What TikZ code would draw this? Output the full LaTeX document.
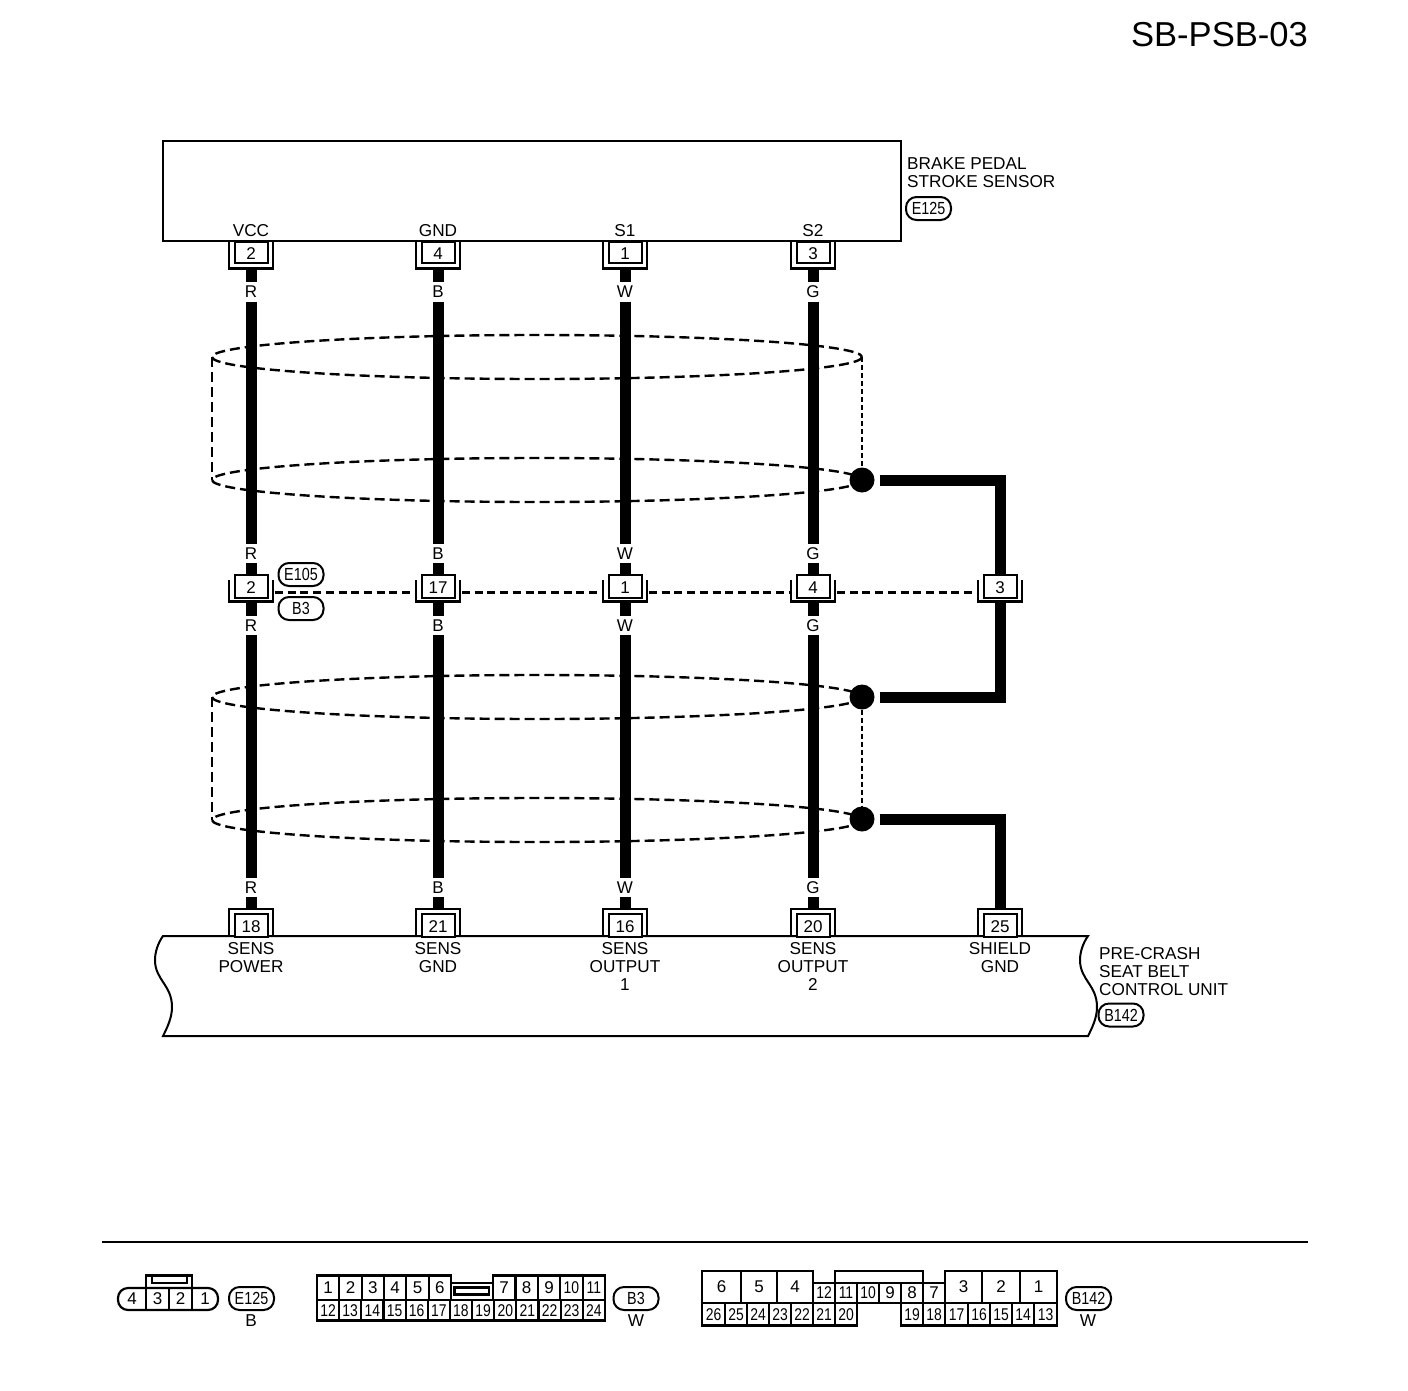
\documentclass[tikz,border=0pt]{standalone}
\usepackage{fontspec}
\usepackage{graphicx}
\setmainfont{Liberation Sans}
\tikzset{
  txt/.style={inner sep=0pt,font=\fontsize{17.2}{18}\selectfont,align=center},
  num/.style={inner sep=0pt,font=\fontsize{17}{18}\selectfont},
  wlabel/.style={inner sep=0pt,minimum width=0pt,minimum height=19pt,font=\fontsize{17}{18}\selectfont},
  wire/.style={line width=11pt},
  pinbox/.style={draw,line width=2pt,inner sep=0pt,minimum width=33pt,font=\fontsize{17}{18}\selectfont,fill=white},
  ushell/.style={line width=2.6pt},
  shield/.style={line width=2.4pt,dash pattern=on 10pt off 5pt},
  pill/.style={draw,line width=2pt,rounded corners=10.5pt,inner sep=0pt,minimum width=45pt,minimum height=23pt,font=\fontsize{17.5}{18}\selectfont,fill=white},
  dotnode/.style={circle,fill=black,inner sep=0pt,minimum size=25pt},
  gnd/.style={line width=11pt,miter limit=10,shorten <=5pt},
  cellline/.style={line width=2.2pt},
  outline/.style={line width=2.7pt}
}
\newcommand{\nar}[1]{\scalebox{0.82}[1]{#1}}
\newcommand{\dn}[1]{\raisebox{-1.5pt}[\height][\depth]{#1}}
\begin{document}
\begin{tikzpicture}[x=1pt,y=-1pt,line join=miter]
\useasboundingbox (0,0) rectangle (1408,1390);
\node[inner sep=0pt,font=\fontsize{34.6}{36}\selectfont] (title) at (1219.5,34.5) {SB-PSB-03};

% shields (below the wires)
\coordinate (sA) at (537,357); \coordinate (sB) at (537,480);
\coordinate (sC) at (537,697); \coordinate (sD) at (537,820);
\draw[shield] (sA) ellipse [x radius=325,y radius=22];
\draw[shield] (sB) ellipse [x radius=325,y radius=22];
\draw[shield] (sC) ellipse [x radius=325,y radius=22];
\draw[shield] (sD) ellipse [x radius=325,y radius=22];
\coordinate (sAl) at (212,357); \coordinate (sBl) at (212,480);
\coordinate (sCl) at (212,697); \coordinate (sDl) at (212,820);
\coordinate (sAr) at (862,357);
\draw[shield] (sAl) -- (sBl);
\draw[shield] (sCl) -- (sDl);
\node[dotnode] (dA) at (862,480) {};
\node[dotnode] (dB) at (862,697) {};
\node[dotnode] (dC) at (862,819) {};
\draw[line width=1.6pt,dash pattern=on 5pt off 3pt] (sAr) -- (dA);
\draw[line width=1.6pt,dash pattern=on 5pt off 3pt] (dB) -- (dC);

% component boxes
\node[draw,line width=2pt,inner sep=0pt,minimum width=738pt,minimum height=100pt] (sensor) at (532,191) {};
\node[txt,anchor=north west,align=left] (sensorname) at (907,157.5) {BRAKE PEDAL\\STROKE SENSOR};
\node[pill] (e125) at (928.5,208.5) {\nar{E125}};

\coordinate (ulT) at (163,936); \coordinate (urT) at (1088,936);
\coordinate (ulB) at (163,1036); \coordinate (urB) at (1088,1036);
\draw[line width=2pt] (ulT) -- (urT)
  .. controls (1083,943) and (1080,952) .. (1080,960)
  .. controls (1080,980) and (1097,985) .. (1097,1007)
  .. controls (1097,1018) and (1092,1028) .. (urB)
  -- (ulB)
  .. controls (167,1028) and (172,1018) .. (172,1007)
  .. controls (172,985) and (155,980) .. (155,960)
  .. controls (155,952) and (158,943) .. (ulT) -- cycle;
\node[txt,anchor=north west,align=left] (unitname) at (1099,947.5) {PRE-CRASH\\SEAT BELT\\CONTROL UNIT};
\node[pill] (b142) at (1121,1015) {\nar{B142}};

% wire columns
\foreach \n/\x/\c/\sig/\pa/\pb/\pc in {1/251/R/VCC/2/2/18,2/438/B/GND/4/17/21,3/625/W/S1/1/1/16,4/813/G/S2/3/4/20}{
  \node[txt] (sig\n) at (\x,231) {\sig};
  % top connector
  \node[pinbox,minimum height=21pt] (t\n) at (\x,252) {\dn{\pa}};
  \draw[ushell] (\x-22,242) -- (\x-22,268.5) -- (\x+22,268.5) -- (\x+22,242);
  \coordinate (to\n) at (\x,269);
  % labels
  \node[wlabel] (la\n) at (\x,292) {\c};
  \node[wlabel] (lb\n) at (\x,553.5) {\c};
  \node[wlabel] (lc\n) at (\x,625.5) {\c};
  \node[wlabel] (ld\n) at (\x,887.5) {\c};
  % middle connector
  \coordinate (mi\n) at (\x,574);
  \coordinate (mo\n) at (\x,602);
  % bottom connector
  \coordinate (bo\n) at (\x,908);
  \draw[wire] (to\n) -- (la\n);
  \draw[wire] (la\n) -- (lb\n);
  \draw[wire] (lb\n) -- (mi\n);
  \draw[wire] (mo\n) -- (lc\n);
  \draw[wire] (lc\n) -- (ld\n);
  \draw[wire] (ld\n) -- (bo\n);
  \node[pinbox,minimum height=23pt] (m\n) at (\x,586) {\dn{\pb}};
  \draw[ushell] (\x-22,580) -- (\x-22,601.5) -- (\x+22,601.5) -- (\x+22,580);
  \draw[ushell] (\x-22,936) -- (\x-22,909) -- (\x+22,909) -- (\x+22,936);
  \node[pinbox,minimum height=23pt] (b\n) at (\x,925) {\dn{\pc}};
}
% shield connector column
\node[pinbox,minimum height=23pt] (m5) at (1000,586) {\dn{3}};
\draw[ushell] (978,580) -- (978,601.5) -- (1022,601.5) -- (1022,580);
\draw[ushell] (978,936) -- (978,909) -- (1022,909) -- (1022,936);
\node[pinbox,minimum height=23pt] (b5) at (1000,925) {\dn{25}};

\coordinate (m1r) at (275,592); \coordinate (m2l) at (414,592); \coordinate (m2r) at (462,592);
\coordinate (m3l) at (601,592); \coordinate (m3r) at (649,592); \coordinate (m4l) at (789,592);
\coordinate (m4r) at (837,592); \coordinate (m5l) at (976,592);
\foreach \p/\q in {m1r/m2l,m2r/m3l,m3r/m4l,m4r/m5l}
  \draw[line width=3pt,dash pattern=on 8pt off 4.7pt] (\p) -- (\q);

% shield ground wires
\coordinate (m5t) at (1000,574); \coordinate (m5b) at (1000,602); \coordinate (b5t) at (1000,908);
\draw[gnd] (dA.east) -- (1000,480) -- (m5t);
\draw[gnd] (dB.east) -- (1000,697) -- (m5b);
\draw[gnd] (dC.east) -- (1000,819) -- (b5t);

% mid pills
\node[pill] (e105) at (301,574.5) {\nar{E105}};
\node[pill] (b3) at (301,608.5) {\nar{B3}};

% unit pin labels
\node[txt,anchor=north] (u1) at (251,942) {SENS\\POWER};
\node[txt,anchor=north] (u2) at (438,942) {SENS\\GND};
\node[txt,anchor=north] (u3) at (625,942) {SENS\\OUTPUT\\1};
\node[txt,anchor=north] (u4) at (813,942) {SENS\\OUTPUT\\2};
\node[txt,anchor=north] (u5) at (1000,942) {SHIELD\\GND};

% legend rule
\coordinate (ruleL) at (102,1242); \coordinate (ruleR) at (1308,1242);
\draw[line width=2pt] (ruleL) -- (ruleR);

% E125 face
\draw[cellline,rounded corners=10pt] (146,1288) -- (118,1288) -- (118,1310) -- (218,1310) -- (218,1288) -- cycle;
\draw[cellline] (146,1275.5) rectangle (192,1288);
\draw[line width=2pt] (152,1276) -- (152,1283) -- (187,1283) -- (187,1276);
\draw[cellline] (146,1288) -- (146,1310) (169,1288) -- (169,1310) (192,1288) -- (192,1310);
\foreach \t/\x in {4/132,3/157.5,2/180.5,1/205}
  \node[num] (ea\t) at (\x,1299) {\t};
\node[pill] (le125) at (251.5,1298.5) {\nar{E125}};
\node[txt] (le125c) at (251,1321) {B};

% B3 face
\foreach \t/\a/\b in {1/317/339.3,2/339.3/361.7,3/361.7/384,4/384/406.3,5/406.3/428.7,6/428.7/451,7/493/515.4,8/515.4/537.8,9/537.8/560.2,10/560.2/582.6,11/582.6/605}
  \draw[cellline] (\a,1275.5) rectangle (\b,1300) node[midway,num] (ba\t) {\ifnum\t>9 \nar{\t}\else\t\fi};
\foreach \t/\a/\b in {12/317/339.15,13/339.15/361.3,14/361.3/383.45,15/383.45/405.6,16/405.6/427.75,17/427.75/449.9,18/449.9/472.05,19/472.05/494.2,20/494.2/516.35,21/516.35/538.5,22/538.5/560.65,23/560.65/582.8,24/582.8/605}
  \draw[cellline] (\a,1300) rectangle (\b,1320.5) node[midway,num] (bb\t) {\nar{\t}};
\draw[cellline] (451,1283) -- (493,1283);
\draw[cellline] (454.5,1287.5) rectangle (489,1294.5);
\draw[outline] (317,1275.5) -- (451,1275.5) -- (451,1283) -- (493,1283) -- (493,1275.5) -- (605,1275.5) -- (605,1320.5) -- (317,1320.5) -- cycle;
\node[pill] (lb3) at (636,1298.5) {\nar{B3}};
\node[txt] (lb3c) at (636,1321) {W};

% B142 face
\foreach \t/\a/\b in {6/702/741,5/741/777,4/777/813,3/945/982,2/982/1020,1/1020/1057}
  \draw[cellline] (\a,1271) rectangle (\b,1303) node[midway,num] (ca\t) {\t};
\foreach \t/\a/\b in {12/813/835,7/923/945}
  \draw[cellline] (\a,1283) rectangle (\b,1303) node[midway,num] (ca\t) {\ifnum\t>9 \nar{\t}\else\t\fi};
\foreach \t/\a/\b in {11/835/857,10/857/879,9/879/901,8/901/923}
  \draw[cellline] (\a,1283) rectangle (\b,1303) node[midway,num] (ca\t) {\ifnum\t>9 \nar{\t}\else\t\fi};
\draw[line width=1.8pt] (835,1283) -- (835,1271) -- (923,1271) -- (923,1283);
\foreach \t/\a/\b in {26/702/725,25/725/747,24/747/769,23/769/791,22/791/813,21/813/835,20/835/857,19/901/923,18/923/945,17/945/968,16/968/990,15/990/1012,14/1012/1034,13/1034/1057}
  \draw[cellline] (\a,1303) rectangle (\b,1325.5) node[midway,num] (cb\t) {\nar{\t}};
\draw[outline] (702,1271) rectangle (813,1303);
\draw[outline] (945,1271) rectangle (1057,1303);
\draw[outline] (702,1303) rectangle (857,1325.5);
\draw[outline] (901,1303) rectangle (1057,1325.5);
\node[pill] (lb142) at (1088.5,1298.5) {\nar{B142}};
\node[txt] (lb142c) at (1088,1321) {W};
\end{tikzpicture}
\end{document}
